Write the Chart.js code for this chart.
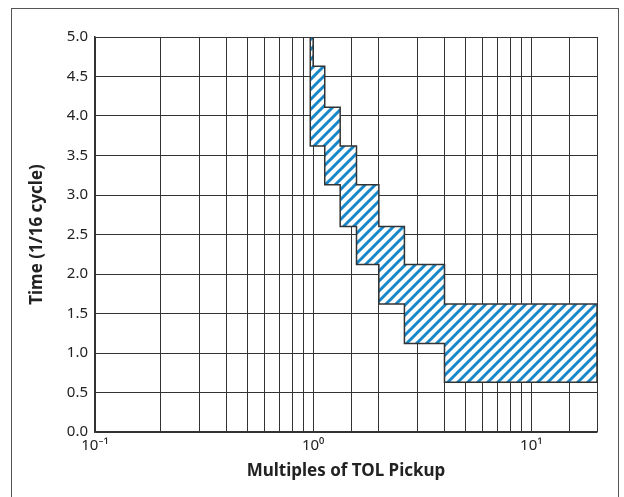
<!DOCTYPE html>
<html>
<head>
<meta charset="utf-8">
<script src="https://cdn.jsdelivr.net/npm/chart.js@4/dist/chart.umd.min.js"></script>
<style>
  html, body { margin: 0; padding: 0; background: #fff; overflow: hidden; }
  #wrap { position: relative; width: 624px; height: 497px; }
  #frame { position: absolute; left: 11px; top: 8px; width: 608px; height: 520px; border: 1.5px solid #555; box-sizing: border-box; }
  canvas { position: absolute; left: 0; top: 0; }
</style>
</head>
<body>
<div id="wrap">
  <div id="frame"></div>
  <canvas id="c" width="624" height="497"></canvas>
</div>
<script>
// Tolerance band vertices (multiples of pickup, time in 1/16 cycle), traced clockwise
const bandX = [1.0, 1.0, 1.13, 1.13, 1.33, 1.33, 1.58, 1.58, 2.0, 2.0, 2.62, 2.62, 4.0, 4.0, 20, 20, 4.0, 4.0, 2.62, 2.62, 2.0, 2.0, 1.58, 1.58, 1.33, 1.33, 1.13, 1.13, 0.97, 0.97, 1.0];
const bandY = [5.0, 4.63, 4.63, 4.11, 4.11, 3.62, 3.62, 3.13, 3.13, 2.6, 2.6, 2.12, 2.12, 1.62, 1.62, 0.63, 0.63, 1.12, 1.12, 1.62, 1.62, 2.12, 2.12, 2.6, 2.6, 3.13, 3.13, 3.62, 3.62, 5.0, 5.0];
const xDecadeLabels = {"-1": "10\u207B\u00B9", "0": "10\u2070", "1": "10\u00B9"};
const xTitle = "Multiples of TOL Pickup";
const yTitle = "Time (1/16 cycle)";

function hatch() {
  const p = document.createElement('canvas');
  p.width = 10; p.height = 10;
  const g = p.getContext('2d');
  g.fillStyle = '#ffffff';
  g.fillRect(0, 0, 10, 10);
  g.strokeStyle = '#1787c9';
  g.lineWidth = 3;
  g.beginPath();
  g.moveTo(-2, 12); g.lineTo(12, -2);
  g.moveTo(-2, 2); g.lineTo(2, -2);
  g.moveTo(8, 12); g.lineTo(12, 8);
  g.stroke();
  return document.getElementById('c').getContext('2d').createPattern(p, 'repeat');
}

const pts = bandX.map((x, i) => ({x: x, y: bandY[i]}));
const FONT = "'Noto Sans', sans-serif";

new Chart(document.getElementById('c'), {
  type: 'scatter',
  data: {
    datasets: [{
      data: pts,
      showLine: true,
      fill: 'shape',
      backgroundColor: hatch(),
      borderColor: '#333333',
      borderWidth: 1.5,
      pointRadius: 0,
      tension: 0
    }]
  },
  options: {
    responsive: false,
    animation: false,
    layout: { padding: { top: 37, right: 27, left: 0, bottom: 0 } },
    plugins: { legend: { display: false }, tooltip: { enabled: false } },
    scales: {
      x: {
        type: 'logarithmic',
        min: 0.1, max: 20,
        afterFit: s => { s.height = 65; },
        grid: { color: '#333', lineWidth: 1, drawTicks: false },
        border: { color: '#333', width: 1.5 },
        ticks: {
          autoSkip: false, maxRotation: 0, padding: 5,
          color: '#222', font: { family: FONT, size: 15 },
          callback: v => {
            const l = Math.log10(v), r = Math.round(l);
            if (Math.abs(l - r) < 1e-6 && xDecadeLabels[String(r)] !== undefined) return xDecadeLabels[String(r)];
            return '';
          }
        },
        title: { display: true, text: xTitle, color: '#222', font: { family: FONT, size: 17, weight: 'bold' }, padding: { top: 0, bottom: 16 } }
      },
      y: {
        min: 0, max: 5,
        afterFit: s => { s.width = 95; },
        grid: { color: '#333', lineWidth: 1, drawTicks: false },
        border: { color: '#333', width: 1.5 },
        ticks: {
          stepSize: 0.5, padding: 7,
          color: '#222', font: { family: FONT, size: 15 },
          callback: v => Number(v).toFixed(1)
        },
        title: { display: true, text: yTitle, color: '#222', font: { family: FONT, size: 17, weight: 'bold' }, padding: { top: 27, bottom: 0 } }
      }
    }
  }
});
</script>
</body>
</html>
